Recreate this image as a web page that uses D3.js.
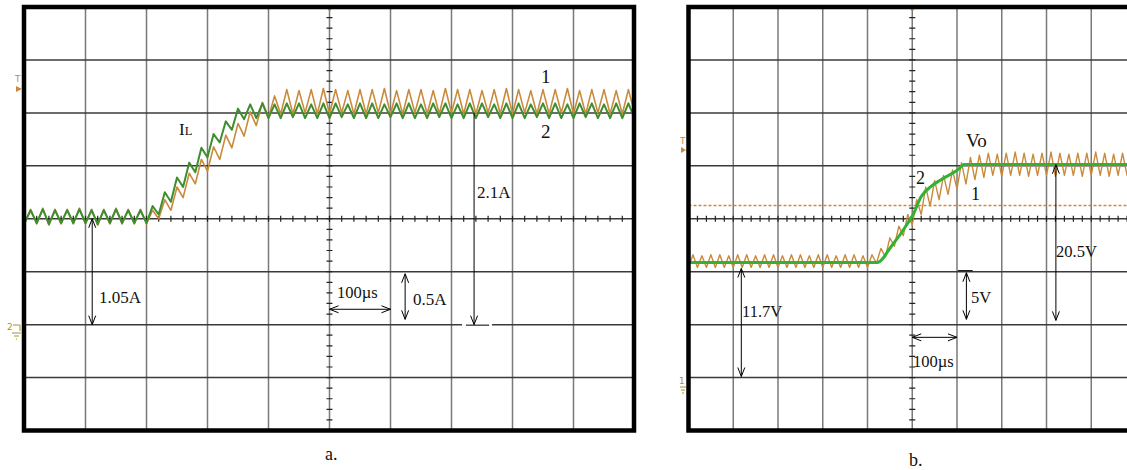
<!DOCTYPE html>
<html><head><meta charset="utf-8">
<script src="https://cdn.jsdelivr.net/npm/d3@7"></script>
<style>body{margin:0;background:#fff;overflow:hidden}svg{display:block}</style>
</head><body>
<svg id="c" width="1127" height="470"></svg>
<script>
// ---------------- DATA ----------------
// sample times (µs) of the trace vertices, shared by the rippled traces
const time = [0,10,20,30,40,50,60,70,80,90,100,110,120,130,140,150,160,170,180,190,
  200,210,220,230,240,250,260,270,280,290,300,310,320,330,340,350,360,370,380,390,
  400,410,420,430,440,450,460,470,480,490,500,510,520,530,540,550,560,570,580,590,
  600,610,620,630,640,650,660,670,680,690,700,710,720,730,740,750,760,770,780,790,
  800,810,820,830,840,850,860,870,880,890,900,910,920,930,940,950,960,970,980,990,1000];

// panel a: inductor current IL (A), trace 1 (orange) and trace 2 (green)
const aTrace1 = [0.95,1.09,0.95,1.10,0.94,1.09,0.95,1.09,0.95,1.10,
  0.95,1.09,0.94,1.09,0.95,1.10,0.95,1.09,0.95,1.09,0.95,
  1.08,1.00,1.18,1.08,1.30,1.20,1.43,1.33,1.56,1.45,1.68,1.56,1.79,1.67,1.90,1.78,2.01,1.88,2.10,1.96,2.16,1.99,
  2.22,1.99,2.21,2.00,2.22,1.99,2.23,1.99,2.22,2.00,
  2.21,1.99,2.22,1.99,2.22,2.00,2.23,1.99,2.21,1.99,
  2.22,2.00,2.22,1.99,2.21,1.99,2.23,2.00,2.22,1.99,
  2.22,1.99,2.21,2.00,2.22,1.99,2.23,1.99,2.22,2.00,
  2.21,1.99,2.22,1.99,2.22,2.00,2.23,1.99,2.21,1.99,
  2.22,2.00,2.22,1.99,2.21,1.99,2.22,2.00];
const aTrace2 = [0.96,1.08,0.96,1.09,0.95,1.08,0.96,1.08,0.96,1.09,
  0.96,1.08,0.95,1.08,0.96,1.09,0.96,1.08,0.96,1.08,0.96,
  1.12,1.04,1.25,1.16,1.39,1.30,1.53,1.44,1.67,1.58,1.80,1.72,1.92,1.84,2.04,1.94,2.08,1.95,
  2.09,1.95,2.08,1.95,2.09,1.96,2.09,1.95,2.08,1.95,
  2.09,1.95,2.09,1.96,2.08,1.95,2.09,1.95,2.09,1.95,
  2.08,1.96,2.09,1.95,2.09,1.95,2.08,1.95,2.09,1.96,
  2.09,1.95,2.08,1.95,2.09,1.95,2.09,1.96,2.08,1.95,
  2.09,1.95,2.09,1.95,2.08,1.96,2.09,1.95,2.09,1.95,
  2.08,1.95,2.09,1.96,2.09,1.95,2.08,1.95,2.09,1.95,
  2.09,1.95];

// panel b: output voltage Vo (V), trace 1 (orange, rippled) and trace 2 (green)
const bTrace1 = [10.4,11.6,10.4,11.5,10.4,11.6,10.4,11.6,10.4,11.5,
  10.4,11.6,10.4,11.6,10.4,11.5,10.4,11.6,10.4,11.6,
  10.4,11.5,10.4,11.6,10.4,11.6,10.4,11.5,10.4,11.6,
  10.4,11.6,10.4,11.5,10.4,11.6,10.4,11.6,10.4,11.5,
  10.4,11.6,10.8,12.2,11.4,13.2,12.4,14.3,13.4,15.4,14.4,16.8,15.4,18.0,16.2,18.6,16.8,19.1,17.3,19.6,17.8,20.3,18.3,20.8,18.7,21.0,18.9,
  21.2,19.1,21.1,19.0,21.2,19.1,21.3,19.1,21.2,19.0,
  21.1,19.1,21.2,19.1,21.3,19.0,21.2,19.1,21.1,19.1,
  21.2,19.0,21.2,19.1,21.3,19.1,21.2,19.0,21.1,19.1,
  21.2,19.1,21.2,19.0];
const bTrace2Time = [0,422,453,491,502,520,542,565,603,616,1000];
const bTrace2 = [10.87,10.87,12.38,14.65,15.41,17.1,18.05,18.71,19.66,20.13,20.13];
const bRefLevel = 16.26; // dashed cursor level on panel b (V)

// ---------------- DRAWING ----------------
const svg = d3.select("#c");
const FONT = '"Liberation Serif","Times New Roman","DejaVu Serif",serif';
const ORANGE = "#c98a3c";

function makePanel(p) {
  const g = svg.append("g");
  const x = d3.scaleLinear().domain([0, 1000]).range([p.x0, p.x1]);
  const y = d3.scaleLinear().domain(p.yDomain).range([430.5, 7]);
  const cid = "clip" + p.name;
  svg.append("clipPath").attr("id", cid).append("rect")
    .attr("x", p.x0).attr("y", 7).attr("width", p.x1 - p.x0).attr("height", 423.5);
  const inner = g.append("g").attr("clip-path", `url(#${cid})`);
  const [ya, yb] = p.yDomain;
  const yc = (ya + yb) / 2;
  inner.selectAll(".vg").data(x.ticks(10).filter(d => d > 0 && d < 1000)).join("line")
    .attr("x1", d => x(d)).attr("x2", d => x(d)).attr("y1", 7).attr("y2", 430.5)
    .attr("stroke", "#7a7a7a").attr("stroke-width", 1.5);
  inner.selectAll(".hg").data(y.ticks(8).filter(d => d > ya && d < yb)).join("line")
    .attr("x1", p.x0).attr("x2", p.x1).attr("y1", d => y(d)).attr("y2", d => y(d))
    .attr("stroke", "#3a3a3a").attr("stroke-width", 1.5);
  inner.selectAll(".mx").data(x.ticks(50)).join("line")
    .attr("x1", d => x(d)).attr("x2", d => x(d)).attr("y1", y(yc) - 3).attr("y2", y(yc) + 3)
    .attr("stroke", "#222").attr("stroke-width", 1.2);
  inner.selectAll(".my").data(y.ticks(40)).join("line")
    .attr("x1", x(500) - 3).attr("x2", x(500) + 3).attr("y1", d => y(d)).attr("y2", d => y(d))
    .attr("stroke", "#222").attr("stroke-width", 1.2);
  g.append("circle").attr("cx", x(500)).attr("cy", 9).attr("r", 1.8).attr("fill", ORANGE);
  return { g, inner, x, y };
}

const A = makePanel({ name: "a", x0: 24.5, x1: 634.5, yDomain: [-1, 3] });
const B = makePanel({ name: "b", x0: 688.5, x1: 1136, yDomain: [-5, 35] });

// traces panel a
const lineA = d3.line().x(d => A.x(d[0])).y(d => A.y(d[1]));
A.inner.append("path").datum(time.map((t, i) => [t, aTrace1[i]]))
  .attr("d", lineA).attr("fill", "none").attr("stroke", ORANGE).attr("stroke-width", 1.6).attr("stroke-linejoin", "round");
A.inner.append("path").datum(time.map((t, i) => [t, aTrace2[i]]))
  .attr("d", lineA).attr("fill", "none").attr("stroke", "#3e8e2e").attr("stroke-width", 2).attr("stroke-linejoin", "round");

// traces panel b
const lineB = d3.line().x(d => B.x(d[0])).y(d => B.y(d[1]));
B.inner.append("line").attr("x1", B.x(0)).attr("x2", B.x(1000)).attr("y1", B.y(bRefLevel)).attr("y2", B.y(bRefLevel))
  .attr("stroke", ORANGE).attr("stroke-width", 1.5).attr("stroke-dasharray", "3,2");
B.inner.append("path").datum(time.map((t, i) => [t, bTrace1[i]]))
  .attr("d", lineB).attr("fill", "none").attr("stroke", ORANGE).attr("stroke-width", 1.4).attr("stroke-linejoin", "round");
B.inner.append("path").datum(bTrace2Time.map((t, i) => [t, bTrace2[i]]))
  .attr("d", lineB.curve(d3.curveMonotoneX)).attr("fill", "none").attr("stroke", "#34b134").attr("stroke-width", 3);

// borders
[[24, 634], [688.5, 1136]].forEach(([x0, x1]) => {
  svg.append("rect").attr("x", x0).attr("y", 7).attr("width", x1 - x0).attr("height", 423.5)
    .attr("fill", "none").attr("stroke", "#000").attr("stroke-width", 4.5);
});

// ---------------- ANNOTATIONS ----------------
// gap in the grid line under the 2.1A arrow foot
svg.append("line").attr("x1", 462).attr("x2", 492).attr("y1", A.y(0)).attr("y2", A.y(0)).attr("stroke", "#fff").attr("stroke-width", 2.5);
const ann = svg.append("g").attr("stroke", "#000").attr("stroke-width", 1).attr("fill", "none");
function head(x, y, dx, dy) {
  const L = 9, W = 3.5;
  const px = -dy, py = dx;
  ann.append("path").attr("d",
    `M${x - dx * L + px * W},${y - dy * L + py * W}L${x},${y}L${x - dx * L - px * W},${y - dy * L - py * W}`);
}
function vArrow(x, y1, y2, top = true, bot = true) {
  ann.append("line").attr("x1", x).attr("x2", x).attr("y1", y1).attr("y2", y2);
  if (top) head(x, y1, 0, -1);
  if (bot) head(x, y2, 0, 1);
}
function hArrow(y, x1, x2) {
  ann.append("line").attr("x1", x1).attr("x2", x2).attr("y1", y).attr("y2", y);
  head(x1, y, -1, 0); head(x2, y, 1, 0);
}
// panel a
vArrow(A.x(111), A.y(1.0), A.y(0));
hArrow(A.y(0.145), A.x(500), A.x(600));
vArrow(A.x(624), A.y(0.48), A.y(0.05));
ann.append("line").attr("x1", 466).attr("x2", 489).attr("y1", A.y(0) + 0.5).attr("y2", A.y(0) + 0.5);
vArrow(A.x(737), A.y(2.0), A.y(0), false, true);
// panel b
vArrow(B.x(118), B.y(10.3), B.y(0.1));
vArrow(B.x(621), B.y(9.9), B.y(5.5));
ann.append("line").attr("x1", B.x(602)).attr("x2", B.x(635)).attr("y1", B.y(10.1)).attr("y2", B.y(10.1));
hArrow(B.y(3.8), B.x(500), B.x(600));
vArrow(B.x(821), B.y(20.1), B.y(5.4));

// text
const T = svg.append("g").attr("font-family", FONT).attr("fill", "#111");
function txt(s, x, y, size) { return T.append("text").attr("x", x).attr("y", y).attr("font-size", size).text(s); }
const il = T.append("text").attr("x", 179).attr("y", 135).attr("font-size", 17);
il.append("tspan").text("I");
il.append("tspan").attr("font-size", 12.5).text("L");
txt("1", 541, 83, 19);
txt("2", 541, 138, 19);
txt("2.1A", 477, 198, 17);
txt("1.05A", 99, 303, 17);
txt("100µs", 337, 298, 16.5);
txt("0.5A", 413, 305, 17);
txt("a.", 325, 460, 18);
txt("Vo", 966, 147, 19);
txt("2", 916, 184, 18);
txt("1", 971, 200, 18);
txt("11.7V", 742, 317, 16.5);
txt("5V", 971, 303, 16.5);
txt("100µs", 913, 367, 16.5);
txt("20.5V", 1056, 257, 16.5);
txt("b.", 909, 466, 18);

// side markers (trigger / ground)
const M = svg.append("g").attr("font-family", "DejaVu Sans, sans-serif");
M.append("text").attr("x", 15).attr("y", 82).attr("font-size", 9).attr("fill", ORANGE).text("T");
M.append("path").attr("d", "M16,86L22,89L16,92Z").attr("fill", ORANGE);
M.append("text").attr("x", 7).attr("y", 330).attr("font-size", 9).attr("fill", "#9a9a30").text("2");
M.append("path").attr("d", "M13,325L20,325L20,331M12,333L21,333M14,336L19,336M16,339L17,339").attr("stroke", "#9a9a30").attr("fill", "none");
M.append("text").attr("x", 680).attr("y", 144).attr("font-size", 9).attr("fill", ORANGE).text("T");
M.append("path").attr("d", "M681,147L686,150L681,153Z").attr("fill", ORANGE);
M.append("text").attr("x", 679).attr("y", 384).attr("font-size", 9).attr("fill", "#b09030").text("1");
M.append("path").attr("d", "M680,387L686,387M681,390L685,390M682,393L684,393").attr("stroke", "#b09030").attr("fill", "none");
</script>
</body></html>
